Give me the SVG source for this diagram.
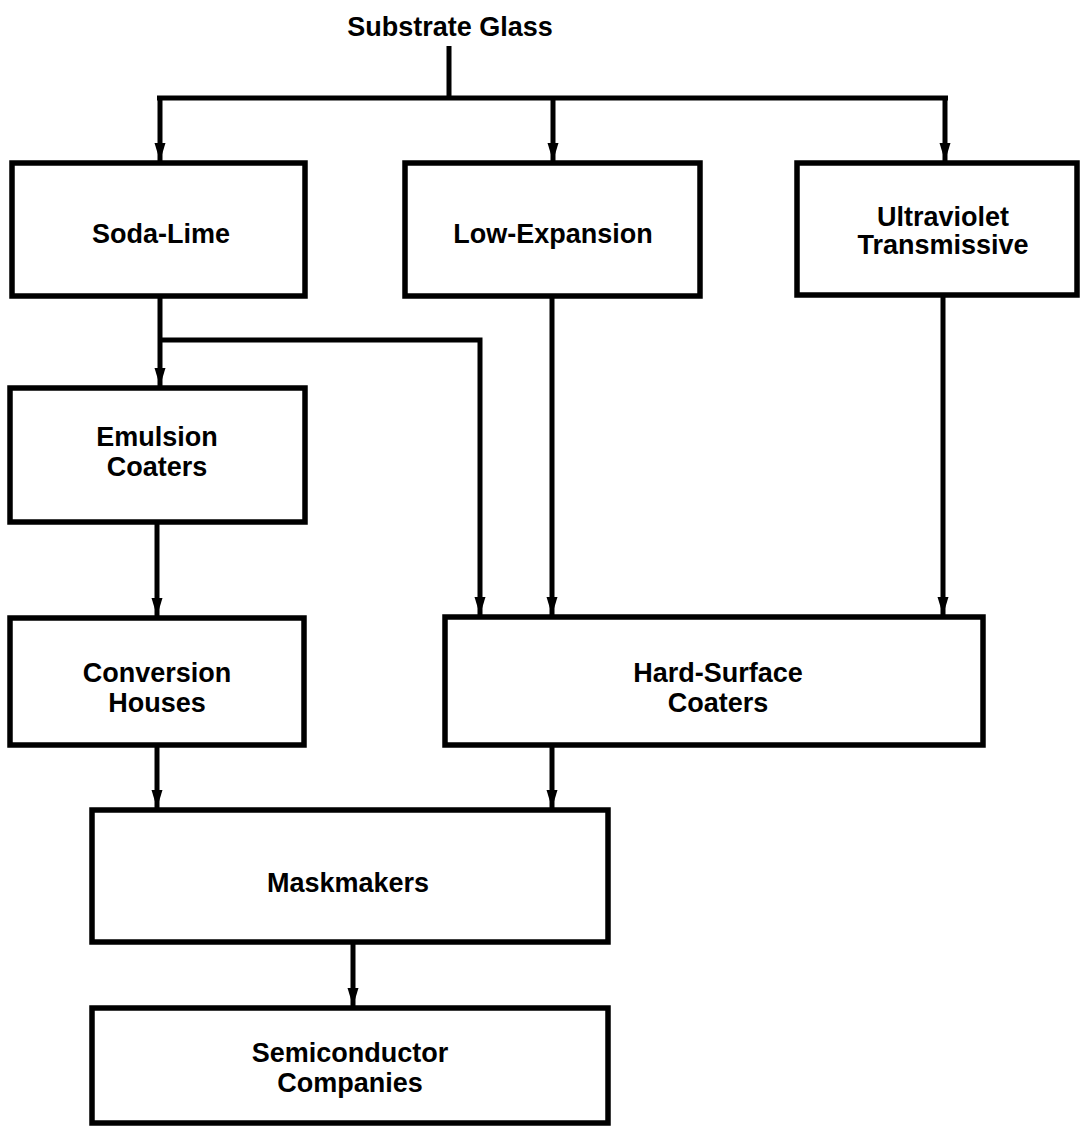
<svg xmlns="http://www.w3.org/2000/svg" width="1083" height="1127" viewBox="0 0 1083 1127">
<style>
.box{fill:#fff;stroke:#000;stroke-width:5.5}
.lbl{font-family:"Liberation Sans",Arial,Helvetica,sans-serif;font-weight:bold;font-size:27px;text-anchor:middle;fill:#000}
.con{fill:none;stroke:#000;stroke-width:5}
</style>
<defs>
<marker id="arr" markerUnits="userSpaceOnUse" viewBox="0 -6 18 12" refX="18" refY="0" markerWidth="18" markerHeight="12" orient="auto">
<path d="M0,-5.5 L18,0 L0,5.5 Z" fill="#000"/>
</marker>
</defs>
<rect width="1083" height="1127" fill="#fff"/>
<g id="connectors">
<path class="con" d="M449,46 V98 M157,98 H948"/>
<path class="con" d="M160,98 V161" marker-end="url(#arr)"/>
<path class="con" d="M553,98 V161" marker-end="url(#arr)"/>
<path class="con" d="M945,98 V161" marker-end="url(#arr)"/>
<path class="con" d="M160,296 V386" marker-end="url(#arr)"/>
<path class="con" d="M160,340 H480 V615" marker-end="url(#arr)"/>
<path class="con" d="M552,296 V615" marker-end="url(#arr)"/>
<path class="con" d="M943,295 V615" marker-end="url(#arr)"/>
<path class="con" d="M157,522 V616" marker-end="url(#arr)"/>
<path class="con" d="M157,745 V808" marker-end="url(#arr)"/>
<path class="con" d="M552,745 V808" marker-end="url(#arr)"/>
<path class="con" d="M353,942 V1006" marker-end="url(#arr)"/>
</g>
<g id="substrate-glass">
<text class="lbl" x="450" y="36">Substrate Glass</text>
</g>
<g id="soda-lime">
<rect class="box" x="12" y="163" width="293" height="133"/>
<text class="lbl" x="161" y="243">Soda-Lime</text>
</g>
<g id="low-expansion">
<rect class="box" x="405" y="163" width="295" height="133"/>
<text class="lbl" x="553" y="243">Low-Expansion</text>
</g>
<g id="ultraviolet">
<rect class="box" x="797" y="163" width="280" height="132"/>
<text class="lbl" x="943" y="226">Ultraviolet</text>
<text class="lbl" x="943" y="254">Transmissive</text>
</g>
<g id="emulsion-coaters">
<rect class="box" x="10" y="388" width="295" height="134"/>
<text class="lbl" x="157" y="446">Emulsion</text>
<text class="lbl" x="157" y="476">Coaters</text>
</g>
<g id="conversion-houses">
<rect class="box" x="10" y="618" width="294" height="127"/>
<text class="lbl" x="157" y="682">Conversion</text>
<text class="lbl" x="157" y="712">Houses</text>
</g>
<g id="hard-surface-coaters">
<rect class="box" x="445" y="617" width="538" height="128"/>
<text class="lbl" x="718" y="682">Hard-Surface</text>
<text class="lbl" x="718" y="712">Coaters</text>
</g>
<g id="maskmakers">
<rect class="box" x="92" y="810" width="516" height="132"/>
<text class="lbl" x="348" y="892">Maskmakers</text>
</g>
<g id="semiconductor-companies">
<rect class="box" x="92" y="1008" width="516" height="115"/>
<text class="lbl" x="350" y="1062">Semiconductor</text>
<text class="lbl" x="350" y="1092">Companies</text>
</g>
</svg>
